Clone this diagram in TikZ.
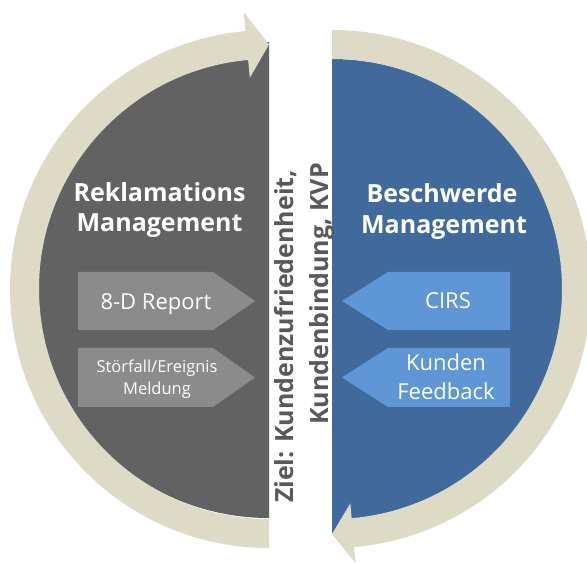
\documentclass[tikz,border=0pt]{standalone}
\usepackage{fontspec}
\setmainfont{Open Sans}
\definecolor{darkgr}{HTML}{626262}
\definecolor{arrgr}{HTML}{8B8B8B}
\definecolor{blueD}{HTML}{3F6A9B}
\definecolor{blueL}{HTML}{5E96D6}
\definecolor{beige}{HTML}{DDDAC6}
\definecolor{midtxt}{HTML}{595959}
\tikzset{
  lbl/.style={inner sep=0pt, text=white, anchor=base},
  title/.style={lbl, font=\fontsize{25}{30}\selectfont\bfseries},
  boxtxt/.style={lbl, font=\fontsize{22}{26}\selectfont},
  smalltxt/.style={lbl, font=\fontsize{16.5}{20}\selectfont},
  midtitle/.style={inner sep=0pt, text=midtxt, rotate=90, anchor=base east, font=\fontsize{25}{30}\selectfont\bfseries},
}
\begin{document}
\begin{tikzpicture}[x=1pt,y=1pt]
\useasboundingbox (0,0) rectangle (587,563);
\coordinate (cL) at (269,274);
\coordinate (cR) at (332,274);
% half discs
\fill[darkgr] (269,521) arc[start angle=90,end angle=270,radius=238] -- cycle;
\fill[blueD] (332,504) arc[start angle=90,end angle=-90,radius=237] -- cycle;
% left circular arrow
\fill[beige] ([shift={(cL)}]270:259) arc[start angle=270,end angle=95.2,radius=259]
  -- ([shift={(cL)}]95.2:278) -- ([shift={(cL)}]90:244.5) -- ([shift={(cL)}]95.2:212)
  -- ([shift={(cL)}]95.2:230) arc[start angle=95.2,end angle=270,radius=230] -- cycle;
% right circular arrow
\fill[beige] ([shift={(cR)}]90:259) arc[start angle=90,end angle=-85.1,radius=259]
  -- ([shift={(cR)}]-85.1:275) -- ([shift={(cR)}]-90:245) -- ([shift={(cR)}]-85.1:215)
  -- ([shift={(cR)}]-85.1:230) arc[start angle=-85.1,end angle=90,radius=230] -- cycle;
% gray arrows
\fill[arrgr] (78,291) -- (213,291) -- (255,262) -- (213,233) -- (78,233) -- cycle;
\fill[arrgr] (78,215) -- (213,215) -- (255,185.5) -- (213,156) -- (78,156) -- cycle;
% blue arrows
\fill[blueL] (510,291) -- (388,291) -- (342,262) -- (388,233) -- (510,233) -- cycle;
\fill[blueL] (510,215) -- (388,215) -- (342,185.5) -- (388,156) -- (510,156) -- cycle;
% titles
\node[title] (rek1) at (159.5,361) {Reklamations};
\node[title] (rek2) at (159.5,331) {Management};
\node[title] (bes1) at (442,360) {Beschwerde};
\node[title] (bes2) at (444,329) {Management};
% arrow texts
\node[boxtxt] (t8d) at (156,253) {8-D Report};
\node[smalltxt] (tst1) at (157,190) {Störfall/Ereignis};
\node[smalltxt] (tst2) at (157,168) {Meldung};
\node[boxtxt] (tcirs) at (448,254) {CIRS};
\node[boxtxt] (tku1) at (446,192) {Kunden};
\node[boxtxt] (tku2) at (446,163) {Feedback};
% middle text
\node[midtitle] (ziel1) at (293,393) {Ziel: Kundenzufriedenheit,};
\node[midtitle] (ziel2) at (328,400) {Kundenbindung, KVP};
\end{tikzpicture}
\end{document}
